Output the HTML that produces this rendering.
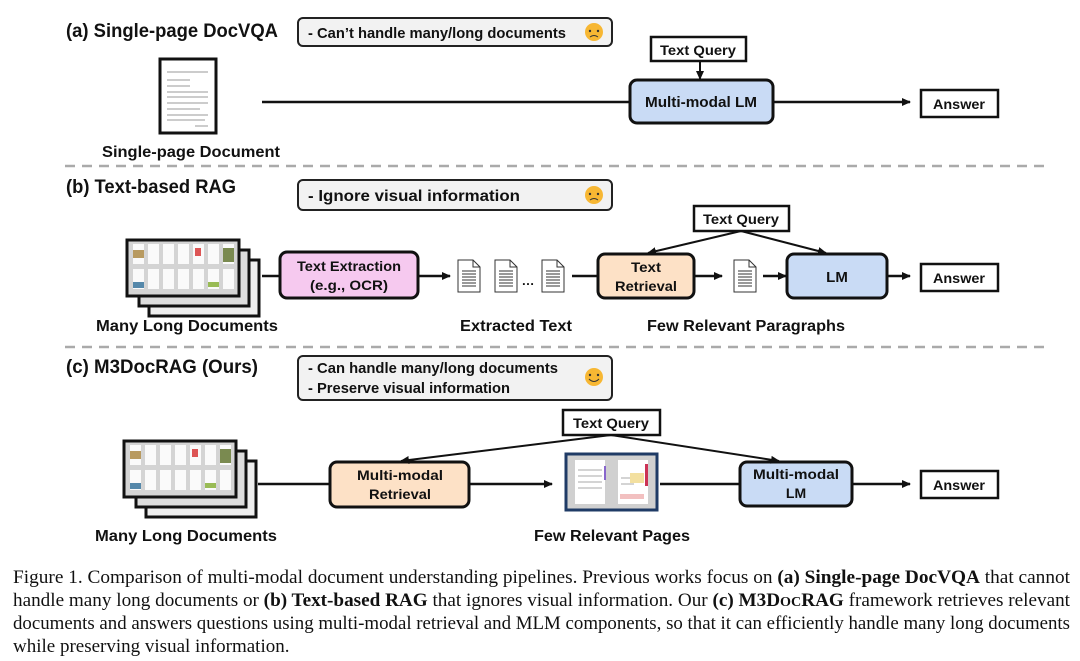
<!DOCTYPE html>
<html><head><meta charset="utf-8"><style>
body{margin:0;background:#fff;}
svg{display:block}
.t{font-family:"Liberation Sans",sans-serif;font-weight:bold;fill:#111}
.c{font-family:"Liberation Serif",serif;font-size:19px;fill:#111}
</style></head><body>
<svg width="1080" height="661" viewBox="0 0 1080 661" xmlns="http://www.w3.org/2000/svg">
<defs>
<marker id="ar" markerWidth="10" markerHeight="10" refX="8" refY="5" orient="auto" markerUnits="userSpaceOnUse"><path d="M0,1 L9,5 L0,9 z" fill="#111"/></marker>
<g id="doc"><path d="M0,0 h15 l7,7 v25 h-22 z" fill="#fff" stroke="#333" stroke-width="1"/><path d="M15,0 v7 h7" fill="none" stroke="#333"/><g stroke="#333" stroke-width="1"><line x1="4" y1="11" x2="18" y2="11"/><line x1="4" y1="14" x2="18" y2="14"/><line x1="4" y1="17" x2="18" y2="17"/><line x1="4" y1="20" x2="18" y2="20"/><line x1="4" y1="23" x2="18" y2="23"/><line x1="4" y1="26" x2="18" y2="26"/></g></g>
<g id="stack">
<rect x="24" y="20" width="110" height="56" fill="#eee" stroke="#111" stroke-width="3"/>
<rect x="14" y="10" width="110" height="56" fill="#ddd" stroke="#111" stroke-width="3"/>
<rect x="2" y="0" width="112" height="56" fill="#d4d4d4" stroke="#111" stroke-width="3"/>
<g fill="#fafafa"><rect x="8" y="4" width="11" height="20"/><rect x="23" y="4" width="11" height="20"/><rect x="38" y="4" width="11" height="20"/><rect x="53" y="4" width="11" height="20"/><rect x="68" y="4" width="11" height="20"/><rect x="83" y="4" width="11" height="20"/><rect x="98" y="4" width="11" height="20"/>
<rect x="8" y="29" width="11" height="20"/><rect x="23" y="29" width="11" height="20"/><rect x="38" y="29" width="11" height="20"/><rect x="53" y="29" width="11" height="20"/><rect x="68" y="29" width="11" height="20"/><rect x="83" y="29" width="11" height="20"/><rect x="98" y="29" width="11" height="20"/></g>
<rect x="8" y="10" width="11" height="8" fill="#b89a60"/><rect x="98" y="8" width="11" height="14" fill="#7a8a50"/><rect x="70" y="8" width="6" height="8" fill="#d55"/><rect x="8" y="42" width="11" height="6" fill="#58a"/><rect x="83" y="42" width="11" height="5" fill="#9b5"/>
</g>
</defs>

<!-- (a) -->
<text class="t" x="66" y="37" font-size="19" textLength="212" lengthAdjust="spacingAndGlyphs">(a) Single-page DocVQA</text>
<rect x="298" y="18" width="314" height="28" rx="5" fill="#f2f2f2" stroke="#222" stroke-width="2"/>
<text class="t" x="308" y="38" font-size="15" textLength="258" lengthAdjust="spacingAndGlyphs">- Can’t handle many/long documents</text>
<circle cx="594" cy="32" r="9" fill="#f7b733"/><circle cx="590" cy="31" r="1.2" fill="#333"/><circle cx="598" cy="31" r="1.2" fill="#333"/><path d="M590,37 q4,-3 8,0" stroke="#333" fill="none"/>
<rect x="160" y="59" width="56" height="74" fill="#fff" stroke="#111" stroke-width="3"/>
<g stroke="#999" stroke-width="1"><line x1="167" y1="72" x2="208" y2="72"/><line x1="167" y1="80" x2="190" y2="80"/><line x1="167" y1="86" x2="190" y2="86"/><line x1="167" y1="92" x2="208" y2="92"/><line x1="167" y1="97" x2="208" y2="97"/><line x1="167" y1="103" x2="208" y2="103"/><line x1="167" y1="109" x2="200" y2="109"/><line x1="167" y1="115" x2="208" y2="115"/><line x1="167" y1="120" x2="205" y2="120"/><line x1="195" y1="126" x2="208" y2="126"/></g>
<text class="t" x="191" y="157" font-size="16" text-anchor="middle" textLength="178" lengthAdjust="spacingAndGlyphs">Single-page Document</text>
<line x1="262" y1="102" x2="630" y2="102" stroke="#111" stroke-width="2.5"/>
<rect x="651" y="37" width="95" height="24" fill="#fff" stroke="#111" stroke-width="2.5"/>
<text class="t" x="698" y="55" font-size="14" text-anchor="middle" textLength="76" lengthAdjust="spacingAndGlyphs">Text Query</text>
<line x1="700" y1="61" x2="700" y2="79" stroke="#111" stroke-width="2" marker-end="url(#ar)"/>
<rect x="630" y="80" width="143" height="43" rx="7" fill="#c9dbf5" stroke="#111" stroke-width="3"/>
<text class="t" x="701" y="107" font-size="15" text-anchor="middle" textLength="112" lengthAdjust="spacingAndGlyphs">Multi-modal LM</text>
<line x1="773" y1="102" x2="910" y2="102" stroke="#111" stroke-width="2.5" marker-end="url(#ar)"/>
<rect x="921" y="90" width="77" height="27" fill="#fff" stroke="#111" stroke-width="2.5"/>
<text class="t" x="959" y="109" font-size="14" text-anchor="middle" textLength="52" lengthAdjust="spacingAndGlyphs">Answer</text>
<line x1="65" y1="166" x2="1048" y2="166" stroke="#aaa" stroke-width="2.5" stroke-dasharray="10,7"/>

<!-- (b) -->
<text class="t" x="66" y="193" font-size="19" textLength="170" lengthAdjust="spacingAndGlyphs">(b) Text-based RAG</text>
<rect x="298" y="180" width="314" height="30" rx="5" fill="#f2f2f2" stroke="#222" stroke-width="2"/>
<text class="t" x="308" y="201" font-size="16" textLength="212" lengthAdjust="spacingAndGlyphs">- Ignore visual information</text>
<circle cx="594" cy="195" r="9" fill="#f7b733"/><circle cx="590" cy="194" r="1.2" fill="#333"/><circle cx="598" cy="194" r="1.2" fill="#333"/><path d="M590,200 q4,-3 8,0" stroke="#333" fill="none"/>
<use href="#stack" x="125" y="240"/>
<text class="t" x="187" y="331" font-size="16" text-anchor="middle" textLength="182" lengthAdjust="spacingAndGlyphs">Many Long Documents</text>
<line x1="262" y1="276" x2="280" y2="276" stroke="#111" stroke-width="2.5"/>
<rect x="280" y="252" width="138" height="46" rx="7" fill="#f6c9ef" stroke="#111" stroke-width="3"/>
<text class="t" x="349" y="271" font-size="14" text-anchor="middle" textLength="104" lengthAdjust="spacingAndGlyphs">Text Extraction</text>
<text class="t" x="349" y="290" font-size="14" text-anchor="middle" textLength="78" lengthAdjust="spacingAndGlyphs">(e.g., OCR)</text>
<line x1="418" y1="276" x2="450" y2="276" stroke="#111" stroke-width="2.5" marker-end="url(#ar)"/>
<use href="#doc" x="458" y="260"/><use href="#doc" x="495" y="260"/><text class="t" x="528" y="285" font-size="13" text-anchor="middle">…</text><use href="#doc" x="542" y="260"/>
<text class="t" x="516" y="331" font-size="16" text-anchor="middle" textLength="112" lengthAdjust="spacingAndGlyphs">Extracted Text</text>
<line x1="572" y1="276" x2="598" y2="276" stroke="#111" stroke-width="2.5"/>
<rect x="598" y="254" width="96" height="44" rx="7" fill="#fde1c6" stroke="#111" stroke-width="3"/>
<text class="t" x="646" y="272" font-size="14" text-anchor="middle" textLength="30" lengthAdjust="spacingAndGlyphs">Text</text>
<text class="t" x="646" y="291" font-size="14" text-anchor="middle" textLength="62" lengthAdjust="spacingAndGlyphs">Retrieval</text>
<line x1="694" y1="276" x2="722" y2="276" stroke="#111" stroke-width="2.5" marker-end="url(#ar)"/>
<use href="#doc" x="734" y="260"/>
<line x1="763" y1="276" x2="786" y2="276" stroke="#111" stroke-width="2.5" marker-end="url(#ar)"/>
<rect x="787" y="254" width="100" height="44" rx="7" fill="#c9dbf5" stroke="#111" stroke-width="3"/>
<text class="t" x="837" y="282" font-size="15" text-anchor="middle">LM</text>
<line x1="887" y1="276" x2="910" y2="276" stroke="#111" stroke-width="2.5" marker-end="url(#ar)"/>
<rect x="921" y="264" width="77" height="27" fill="#fff" stroke="#111" stroke-width="2.5"/>
<text class="t" x="959" y="283" font-size="14" text-anchor="middle" textLength="52" lengthAdjust="spacingAndGlyphs">Answer</text>
<rect x="694" y="206" width="95" height="25" fill="#fff" stroke="#111" stroke-width="2.5"/>
<text class="t" x="741" y="224" font-size="14" text-anchor="middle" textLength="76" lengthAdjust="spacingAndGlyphs">Text Query</text>
<line x1="741" y1="231" x2="648" y2="253" stroke="#111" stroke-width="2" marker-end="url(#ar)"/>
<line x1="741" y1="231" x2="826" y2="253" stroke="#111" stroke-width="2" marker-end="url(#ar)"/>
<text class="t" x="746" y="331" font-size="16" text-anchor="middle" textLength="198" lengthAdjust="spacingAndGlyphs">Few Relevant Paragraphs</text>
<line x1="65" y1="347" x2="1048" y2="347" stroke="#aaa" stroke-width="2.5" stroke-dasharray="10,7"/>

<!-- (c) -->
<text class="t" x="66" y="373" font-size="19" textLength="192" lengthAdjust="spacingAndGlyphs">(c) M3DocRAG (Ours)</text>
<rect x="298" y="356" width="314" height="44" rx="5" fill="#f2f2f2" stroke="#222" stroke-width="2"/>
<text class="t" x="308" y="373" font-size="15" textLength="250" lengthAdjust="spacingAndGlyphs">- Can handle many/long documents</text>
<text class="t" x="308" y="393" font-size="15" textLength="202" lengthAdjust="spacingAndGlyphs">- Preserve visual information</text>
<circle cx="594" cy="377" r="9" fill="#f7b733"/><circle cx="590" cy="375" r="1.2" fill="#333"/><circle cx="598" cy="375" r="1.2" fill="#333"/><path d="M589,379 q5,5 10,0" stroke="#333" fill="none"/>
<use href="#stack" x="122" y="441"/>
<text class="t" x="186" y="541" font-size="16" text-anchor="middle" textLength="182" lengthAdjust="spacingAndGlyphs">Many Long Documents</text>
<line x1="258" y1="484" x2="330" y2="484" stroke="#111" stroke-width="2.5"/>
<rect x="330" y="462" width="139" height="45" rx="7" fill="#fde1c6" stroke="#111" stroke-width="3"/>
<text class="t" x="400" y="480" font-size="14" text-anchor="middle" textLength="86" lengthAdjust="spacingAndGlyphs">Multi-modal</text>
<text class="t" x="400" y="499" font-size="14" text-anchor="middle" textLength="62" lengthAdjust="spacingAndGlyphs">Retrieval</text>
<line x1="469" y1="484" x2="552" y2="484" stroke="#111" stroke-width="2.5" marker-end="url(#ar)"/>
<rect x="566" y="454" width="91" height="56" fill="#d0d0d0" stroke="#1f3b66" stroke-width="3"/>
<rect x="575" y="460" width="30" height="44" fill="#fff"/><rect x="618" y="460" width="30" height="44" fill="#fff"/>
<g stroke="#aaa"><line x1="578" y1="470" x2="602" y2="470"/><line x1="578" y1="476" x2="602" y2="476"/><line x1="578" y1="482" x2="602" y2="482"/><line x1="578" y1="488" x2="602" y2="488"/><line x1="621" y1="478" x2="634" y2="478"/><line x1="621" y1="484" x2="634" y2="484"/></g>
<rect x="630" y="473" width="14" height="10" fill="#f3e0a0"/><rect x="645" y="464" width="3" height="22" fill="#c35"/><rect x="604" y="466" width="2" height="14" fill="#86c"/><rect x="620" y="494" width="24" height="5" fill="#f2c0c0"/>
<line x1="660" y1="484" x2="740" y2="484" stroke="#111" stroke-width="2.5"/>
<rect x="740" y="462" width="112" height="44" rx="7" fill="#c9dbf5" stroke="#111" stroke-width="3"/>
<text class="t" x="796" y="479" font-size="14" text-anchor="middle" textLength="86" lengthAdjust="spacingAndGlyphs">Multi-modal</text>
<text class="t" x="796" y="498" font-size="14" text-anchor="middle">LM</text>
<line x1="852" y1="484" x2="910" y2="484" stroke="#111" stroke-width="2.5" marker-end="url(#ar)"/>
<rect x="921" y="471" width="77" height="27" fill="#fff" stroke="#111" stroke-width="2.5"/>
<text class="t" x="959" y="490" font-size="14" text-anchor="middle" textLength="52" lengthAdjust="spacingAndGlyphs">Answer</text>
<rect x="563" y="410" width="97" height="25" fill="#fff" stroke="#111" stroke-width="2.5"/>
<text class="t" x="611" y="428" font-size="14" text-anchor="middle" textLength="76" lengthAdjust="spacingAndGlyphs">Text Query</text>
<line x1="611" y1="435" x2="401" y2="461" stroke="#111" stroke-width="2" marker-end="url(#ar)"/>
<line x1="611" y1="435" x2="779" y2="461" stroke="#111" stroke-width="2" marker-end="url(#ar)"/>
<text class="t" x="612" y="541" font-size="16" text-anchor="middle" textLength="156" lengthAdjust="spacingAndGlyphs">Few Relevant Pages</text>

<!-- caption -->
<text class="c" x="13" y="583" textLength="1057" lengthAdjust="spacingAndGlyphs">Figure 1. Comparison of multi-modal document understanding pipelines. Previous works focus on <tspan font-weight="bold">(a) Single-page DocVQA</tspan> that cannot</text>
<text class="c" x="13" y="606" textLength="1057" lengthAdjust="spacingAndGlyphs">handle many long documents or <tspan font-weight="bold">(b) Text-based RAG</tspan> that ignores visual information. Our <tspan font-weight="bold">(c) M3D<tspan font-size="14">OC</tspan>RAG</tspan> framework retrieves relevant</text>
<text class="c" x="13" y="629" textLength="1057" lengthAdjust="spacingAndGlyphs">documents and answers questions using multi-modal retrieval and MLM components, so that it can efficiently handle many long documents</text>
<text class="c" x="13" y="652">while preserving visual information.</text>
</svg>
</body></html>
